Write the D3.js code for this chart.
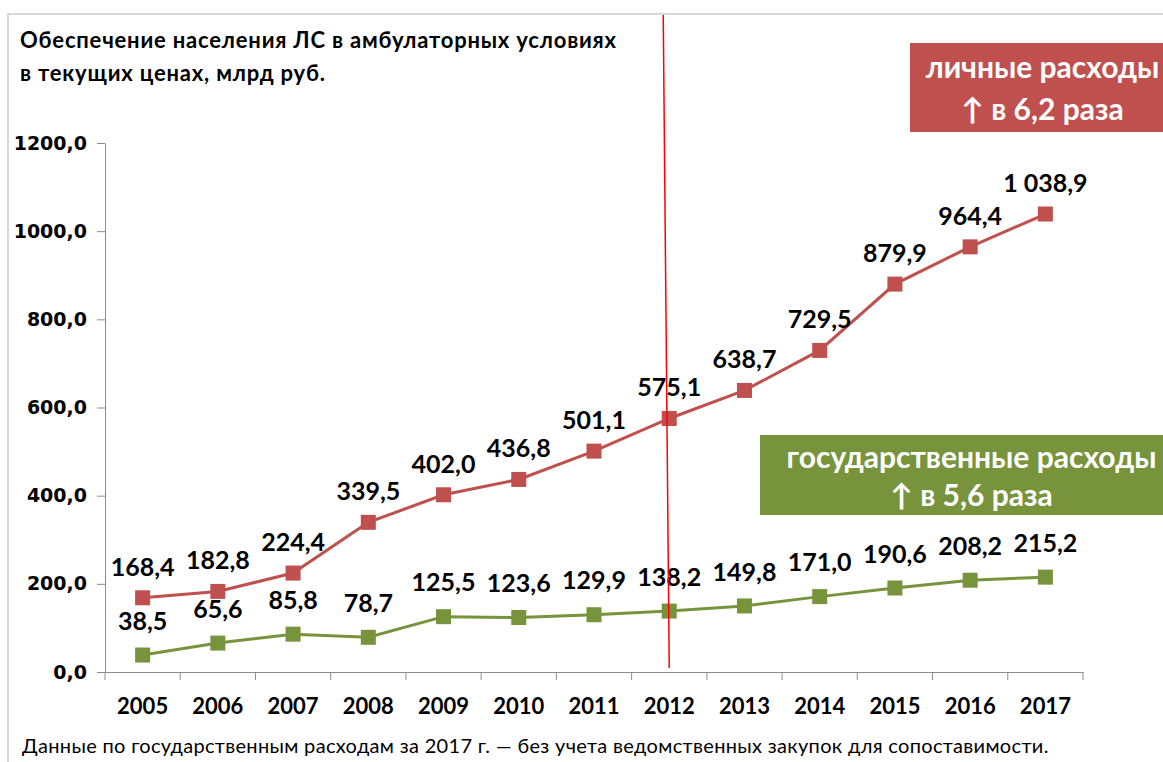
<!DOCTYPE html>
<html>
<head>
  <meta charset="utf-8">
  <title>Обеспечение населения ЛС в амбулаторных условиях</title>
  <style>
    body { margin: 0; background: #fff; }
    svg { display: block; }
    .axis path, .axis line { stroke: #8c8c8c; }
  </style>
</head>
<body>
  <script src="https://cdn.jsdelivr.net/npm/d3@7"></script>
  <script>
    // data
    var years = ["2005", "2006", "2007", "2008", "2009", "2010", "2011", "2012", "2013", "2014", "2015", "2016", "2017"];
    var personal = [168.4, 182.8, 224.4, 339.5, 402.0, 436.8, 501.1, 575.1, 638.7, 729.5, 879.9, 964.4, 1038.9];
    var government = [38.5, 65.6, 85.8, 78.7, 125.5, 123.6, 129.9, 138.2, 149.8, 171.0, 190.6, 208.2, 215.2];
    var yTicks = [0, 200, 400, 600, 800, 1000, 1200];

    var width = 1163;
    var height = 762;

    var ru = d3.formatLocale({ decimal: ",", thousands: " ", grouping: [3], currency: ["", " руб."] });
    var fmtLabel = ru.format(",.1f");
    var fmtTick = ru.format(".1f");

    var svg = d3.select("body").append("svg")
      .attr("width", width)
      .attr("height", height);

    // light frame (top and left edges visible)
    svg.append("rect")
      .attr("x", 8).attr("y", 14)
      .attr("width", width + 20).attr("height", height + 20)
      .attr("fill", "none")
      .attr("stroke", "#d9d9d9")
      .attr("stroke-width", 2);

    // scales
    var x = d3.scaleBand().domain(years).range([105, 1083]).padding(0);
    var y = d3.scaleLinear().domain([0, 1200]).range([672, 143]);
    var cx = function (d, i) { return x(years[i]) + x.bandwidth() / 2; };

    // y axis
    svg.append("g")
      .attr("class", "axis")
      .attr("transform", "translate(105,0)")
      .call(d3.axisLeft(y).tickValues(yTicks).tickSize(8).tickSizeOuter(0).tickPadding(10).tickFormat(fmtTick))
      .call(function (g) {
        g.selectAll("text")
          .attr("fill", "#000")
          .style("font-family", "'DejaVu Sans', Verdana, sans-serif")
          .style("font-weight", "bold")
          .style("font-size", "19px");
      });

    // x axis (labels centred, ticks on category borders)
    var xAxis = svg.append("g")
      .attr("class", "axis")
      .attr("transform", "translate(0,672)")
      .call(d3.axisBottom(x).tickSize(0).tickSizeOuter(0).tickPadding(26));
    xAxis.selectAll("text")
      .attr("fill", "#000")
      .style("font-family", "Lato, 'Open Sans', sans-serif")
      .style("font-weight", "bold")
      .style("font-size", "22px");
    xAxis.selectAll(".border")
      .data(years.concat(["end"]))
      .enter().append("line")
      .attr("class", "border")
      .attr("x1", function (d) { return d === "end" ? x.range()[1] : x(d); })
      .attr("x2", function (d) { return d === "end" ? x.range()[1] : x(d); })
      .attr("y1", 0).attr("y2", 8);

    // series
    var series = [
      { name: "personal", values: personal, color: "#C0504D", dy: -31 },
      { name: "government", values: government, color: "#77933C", dy: -34 }
    ];

    var line = d3.line()
      .x(function (d, i) { return cx(d, i); })
      .y(function (d) { return y(d); });

    series.forEach(function (s) {
      svg.append("path")
        .datum(s.values)
        .attr("fill", "none")
        .attr("stroke", s.color)
        .attr("stroke-width", 3)
        .attr("d", line);

      svg.selectAll(".m-" + s.name)
        .data(s.values)
        .enter().append("rect")
        .attr("class", "m-" + s.name)
        .attr("x", function (d, i) { return cx(d, i) - 7.5; })
        .attr("y", function (d) { return y(d) - 7.5; })
        .attr("width", 15).attr("height", 15)
        .attr("fill", s.color);

      svg.selectAll(".l-" + s.name)
        .data(s.values)
        .enter().append("text")
        .attr("class", "l-" + s.name)
        .attr("x", function (d, i) { return cx(d, i); })
        .attr("y", function (d) { return y(d) + s.dy; })
        .attr("dy", "0.35em")
        .attr("text-anchor", "middle")
        .style("font-family", "Lato, 'Open Sans', sans-serif")
        .style("font-weight", "bold")
        .style("font-size", "25px")
        .attr("fill", "#000")
        .text(function (d) { return fmtLabel(d); });
    });

    // red vertical marker at 2012
    svg.append("line")
      .attr("x1", x("2012") + x.bandwidth() / 2 - 6).attr("y1", 15)
      .attr("x2", x("2012") + x.bandwidth() / 2).attr("y2", 668)
      .attr("stroke", "#FF0000")
      .attr("stroke-width", 1.5);

    // title
    var titleLines = ["Обеспечение населения ЛС в амбулаторных условиях", "в текущих ценах, млрд руб."];
    svg.selectAll(".title")
      .data(titleLines)
      .enter().append("text")
      .attr("class", "title")
      .attr("x", 20)
      .attr("y", function (d, i) { return 48 + i * 33; })
      .style("font-family", "Lato, 'Open Sans', sans-serif")
      .style("font-weight", "bold")
      .style("font-size", "22px")
      .style("letter-spacing", "0.8px")
      .text(function (d) { return d; });

    // growth boxes
    var boxes = [
      { x: 910, y: 43, w: 253, h: 89, color: "#C0504D", shift: 6, lines: ["личные расходы", "↑ в 6,2 раза"] },
      { x: 760, y: 435, w: 403, h: 80, color: "#77933C", shift: 10, lines: ["государственные расходы", "↑ в 5,6 раза"] }
    ];
    boxes.forEach(function (b) {
      var g = svg.append("g").attr("transform", "translate(" + b.x + "," + b.y + ")");
      g.append("rect").attr("width", b.w).attr("height", b.h).attr("fill", b.color);
      g.selectAll("text")
        .data(b.lines)
        .enter().append("text")
        .attr("x", b.w / 2 + b.shift)
        .attr("y", function (d, i) { return b.h / 2 + (i === 0 ? -b.h * 0.22 : b.h * 0.25); })
        .attr("dy", "0.35em")
        .attr("text-anchor", "middle")
        .attr("fill", "#fff")
        .style("font-family", "Lato, 'Open Sans', sans-serif")
        .style("font-weight", "bold")
        .style("font-size", "30px")
        .text(function (d) { return d; });
    });

    // footnote
    svg.append("text")
      .attr("x", 22).attr("y", 753)
      .style("font-family", "Lato, 'Open Sans', sans-serif")
      .style("font-size", "20px")
      .style("letter-spacing", "0.32px")
      .attr("fill", "#000")
      .text("Данные по государственным расходам за 2017 г. — без учета ведомственных закупок для сопоставимости.");
  </script>
</body>
</html>
